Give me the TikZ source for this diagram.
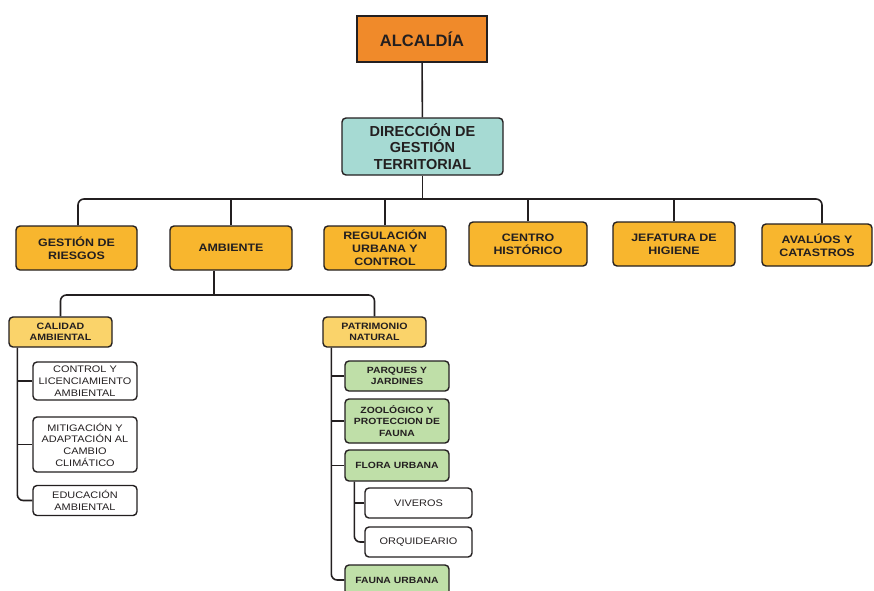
\documentclass[tikz,border=0pt]{standalone}
\usepackage{fontspec}
\usepackage{tikz}
\setmainfont{Liberation Sans}
\newfontfamily\widesf[FakeStretch=1.15]{Liberation Sans}

\definecolor{alcorange}{HTML}{F08A2A}
\definecolor{dirteal}{HTML}{A6DAD3}
\definecolor{unityellow}{HTML}{F8B62E}
\definecolor{subyellow}{HTML}{FAD36A}
\definecolor{parkgreen}{HTML}{BFDFA8}
\definecolor{linecol}{HTML}{231F20}

\tikzset{
  box/.style={draw=linecol, line width=1.4pt, rounded corners=4pt, align=center, inner sep=1pt, text=linecol},
  topbox/.style={box, sharp corners, fill=alcorange, minimum width=130pt, minimum height=46pt,
    font=\bfseries\fontsize{16.5}{19}\selectfont},
  dirbox/.style={box, fill=dirteal, minimum width=161pt, minimum height=57pt,
    font=\bfseries\fontsize{14.5}{16.5}\selectfont},
  unitbox/.style={box, fill=unityellow, minimum width=122pt, minimum height=44pt,
    font=\widesf\bfseries\fontsize{10.8}{13}\selectfont},
  subbox/.style={box, fill=subyellow, minimum width=103pt, minimum height=30pt,
    font=\widesf\bfseries\fontsize{9.2}{11.5}\selectfont},
  greenbox/.style={box, fill=parkgreen, minimum width=104pt, minimum height=30pt,
    font=\widesf\bfseries\fontsize{9}{11.5}\selectfont},
  leafbox/.style={box, fill=white, minimum width=104pt, minimum height=30pt,
    font=\widesf\fontsize{9.5}{11.7}\selectfont},
  link/.style={draw=linecol, line width=1.6pt, rounded corners=6pt}
}

\begin{document}
\begin{tikzpicture}[x=1pt, y=-1pt]
  \useasboundingbox (0,0) rectangle (874,590);

  % top of the chart
  \node[topbox] (alc) at (422,39) {ALCALD\'IA};
  \node[dirbox] (dir) at (422.5,146.5) {DIRECCIÓN DE\\GESTIÓN\\TERRITORIAL};

  % units
  \node[unitbox, minimum width=121pt] (ges) at (76.5,248) {GESTIÓN DE\\RIESGOS};
  \node[unitbox] (amb) at (231,248) {AMBIENTE};
  \node[unitbox] (reg) at (385,248) {REGULACIÓN\\URBANA Y\\CONTROL};
  \node[unitbox, minimum width=118pt] (cen) at (528,244) {CENTRO\\HISTÓRICO};
  \node[unitbox] (jef) at (674,244) {JEFATURA DE\\HIGIENE};
  \node[unitbox, minimum width=110pt, minimum height=42pt] (ava) at (817,245) {AVALÚOS Y\\CATASTROS};

  % ambiente
  \node[subbox] (cal) at (60.5,332) {CALIDAD\\AMBIENTAL};
  \node[subbox] (pat) at (374.5,332) {PATRIMONIO\\NATURAL};

  \node[leafbox, minimum height=38pt] (ctl) at (85,381) {CONTROL Y\\LICENCIAMIENTO\\AMBIENTAL};
  \node[leafbox, minimum height=55pt] (mit) at (85,444.5) {MITIGACIÓN Y\\ADAPTACIÓN AL\\CAMBIO\\CLIMÁTICO};
  \node[leafbox] (edu) at (85,500.5) {EDUCACIÓN\\AMBIENTAL};

  \node[greenbox] (par) at (397,376) {PARQUES Y\\JARDINES};
  \node[greenbox, minimum height=44pt] (zoo) at (397,421) {ZOOLÓGICO Y\\PROTECCION DE\\FAUNA};
  \node[greenbox, minimum height=31pt] (flo) at (397,465.5) {FLORA URBANA};
  \node[leafbox, minimum width=107pt] (viv) at (418.5,503) {VIVEROS};
  \node[leafbox, minimum width=107pt] (orq) at (418.5,542) {ORQUIDEARIO};
  \node[greenbox] (fau) at (397,580) {FAUNA URBANA};

  % connectors
  \coordinate (dirbus) at (422.5,199);
  \draw[link] (alc) -- (dir);
  \draw[link] (dir) -- (dirbus);
  \draw[link] ([xshift=1.5pt]ges.north) |- (dirbus) -| ([xshift=5pt]ava.north);
  \foreach \n in {amb,reg,cen,jef}
    \draw[link] (\n.north) -- (\n.north |- dirbus);

  \coordinate (ambbus) at (214,295);
  \draw[link] ([xshift=-17pt]amb.south) -- (ambbus);
  \draw[link] (cal.north) |- (ambbus) -| (pat.north);

  \coordinate (caltrunk) at ([xshift=9pt]cal.south west);
  \draw[link] (caltrunk) |- (edu.west);
  \foreach \n in {ctl,mit}
    \draw[link] (\n.west) -- (\n.west -| caltrunk);

  \coordinate (pattrunk) at ([xshift=9pt]pat.south west);
  \draw[link] (pattrunk) |- (fau.west);
  \foreach \n in {par,zoo,flo}
    \draw[link] (\n.west) -- (\n.west -| pattrunk);

  \coordinate (flotrunk) at ([xshift=10pt]flo.south west);
  \draw[link] (flotrunk) |- (orq.west);
  \draw[link] (viv.west) -- (viv.west -| flotrunk);
\end{tikzpicture}
\end{document}
